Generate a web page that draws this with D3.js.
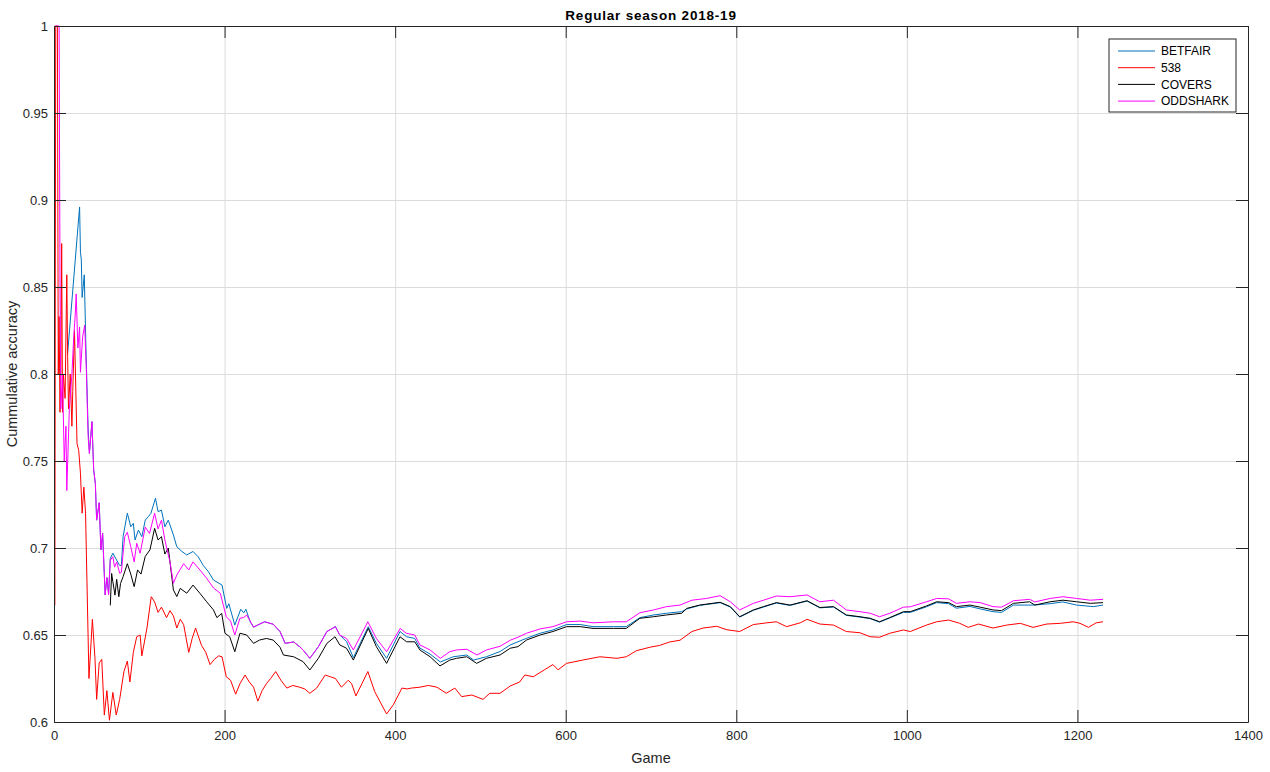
<!DOCTYPE html>
<html lang="en">
<head>
    <meta charset="UTF-8">
    <title>Regular season 2018-19</title>
    <script src="https://d3js.org/d3.v7.min.js"></script>
    <style>
        body { margin: 0; background: #fff; }
        svg { font-family: "Liberation Sans", Arial, Helvetica, sans-serif; }
        .tick text { fill: #262626; font-size: 13px; }
        .axis path, .axis line { stroke: #262626; }
        .grid line { stroke: #dcdcdc; }
        .grid path { display: none; }
        .series { fill: none; stroke-width: 1px; stroke-linejoin: round; }
    </style>
</head>
<body>
<div id="chart"></div>
<script>
    // Values: [game, cumulative accuracy]
    const seriesNames = ["BETFAIR", "538", "COVERS", "ODDSHARK"];
    const seriesColors = ["#0072bd", "#ff0000", "#000000", "#ff00ff"];
    const xTicks = [0, 200, 400, 600, 800, 1000, 1200, 1400];
    const yTicks = [0.6, 0.65, 0.7, 0.75, 0.8, 0.85, 0.9, 0.95, 1];

    const betfair = [
        [16,0.812],[30,0.896],[31,0.870],[32,0.866],[33,0.844],[35.5,0.857],[37.5,0.814],[40,0.769],
        [41.5,0.7544],[44.5,0.7726],[46.5,0.745],[48.5,0.737],[50,0.716],[53,0.726],[55,0.699],[57,0.7085],
        [60,0.673],[62,0.683],[64,0.674],[66,0.694],[69,0.697],[73.5,0.693],[77,0.690],[79,0.690],
        [81,0.7065],[86,0.72],[90,0.7122],[93,0.7142],[95,0.7046],[99,0.7103],[103,0.7065],[107,0.716],
        [110.6,0.718],[113.6,0.7199],[119,0.7286],[122,0.7209],[126,0.7218],[130,0.7122],[134,0.716],
        [140,0.7075],[144,0.7007],[150,0.698],[155.6,0.696],[163,0.698],[169,0.695],[175,0.690],
        [181,0.6864],[187,0.6816],[197,0.6787],[202.5,0.6653],[205,0.668],[212,0.6557],[219,0.6648],
        [222.5,0.6627],[225,0.6648],[230,0.6576],[234,0.6545],[240,0.656],[247,0.6576],[257,0.6562],
        [265,0.652],[271,0.6452],[281,0.646],[288,0.6433],[292,0.6414],[300,0.6366],[310,0.6433],
        [320,0.652],[330,0.6548],[335,0.65],[343,0.6462],[351,0.637],[368.5,0.6548],[378,0.6452],
        [390,0.6366],[405.7,0.652],[413.5,0.649],[423,0.648],[429,0.6425],[441,0.639],[453,0.6345],
        [468,0.6375],[484,0.6385],[492,0.6356],[507,0.6375],[523,0.6405],[535,0.6443],[554,0.6481],
        [570,0.651],[585,0.6529],[601,0.656],[617,0.656],[632,0.6548],[656,0.6548],[671,0.6548],
        [687,0.66],[703,0.6615],[718,0.6625],[736,0.6634],[742,0.665],[757,0.667],[781,0.6686],
        [793,0.6661],[804,0.6603],[820,0.6642],[832,0.6661],[847,0.6684],[863,0.667],[883,0.6695],
        [898,0.6656],[914,0.6661],[929,0.6613],[945,0.6603],[957,0.6594],[968,0.6574],[980,0.6598],
        [996,0.663],[1004,0.663],[1023,0.6662],[1035,0.6686],[1049,0.668],[1058,0.6654],[1074,0.6664],
        [1086,0.665],[1101,0.6634],[1111,0.663],[1125,0.6672],[1148,0.6672],[1168,0.668],[1183,0.669],
        [1199,0.6672],[1219,0.6663],[1230,0.6672]
    ];

    const fivethirtyeight = [
        [1,0.667],[2,1],[4,1],[5,0.80],[6,0.833],[7,0.778],[8,0.80],[9,0.875],[10,0.778],[11,0.80],
        [13,0.786],[15,0.857],[16,0.81],[17,0.78],[19,0.80],[21,0.77],[22,0.79],[24,0.825],[27,0.76],
        [29,0.756],[31,0.743],[33,0.72],[35,0.735],[37,0.72],[41,0.625],[45,0.659],[48,0.637],[50,0.613],
        [53,0.634],[56,0.636],[59,0.604],[62,0.618],[65,0.601],[69,0.617],[73,0.604],[77,0.613],[82,0.629],
        [86,0.635],[89,0.623],[93,0.640],[97,0.649],[101,0.65],[103,0.638],[109,0.654],[114,0.672],
        [118,0.669],[122,0.663],[126,0.666],[132,0.66],[136,0.664],[140,0.661],[144,0.654],[148,0.659],
        [152,0.656],[158,0.64],[162,0.648],[166,0.654],[173,0.644],[178,0.640],[183,0.633],[188,0.636],
        [193,0.638],[197,0.6375],[202,0.626],[207,0.624],[213,0.616],[218,0.622],[224,0.627],[229,0.623],
        [234,0.620],[239,0.612],[244,0.618],[249,0.622],[254,0.625],[260,0.629],[266,0.624],[273,0.6195],
        [280,0.621],[288,0.620],[294,0.619],[300,0.6165],[308,0.6195],[318,0.627],[324,0.626],[330,0.625],
        [337,0.620],[345,0.624],[349,0.622],[354,0.615],[361,0.622],[368,0.629],[376,0.6175],[383,0.611],
        [390,0.6046],[398,0.610],[408,0.6195],[414,0.619],[419,0.6195],[429,0.620],[439,0.621],[449,0.620],
        [460,0.6165],[470,0.6195],[478,0.6146],[490,0.6155],[503,0.613],[511,0.6165],[523,0.6165],
        [535,0.6207],[546,0.623],[552,0.627],[562,0.626],[575,0.630],[585,0.633],[591,0.630],[601,0.6337],
        [620,0.6356],[640,0.6375],[660,0.6366],[671,0.6375],[683,0.641],[699,0.643],[710,0.644],
        [722,0.646],[734,0.647],[748,0.652],[761,0.654],[777,0.655],[789,0.653],[804,0.652],[820,0.656],
        [836,0.657],[847,0.6576],[859,0.6548],[875,0.657],[883,0.659],[898,0.6563],[914,0.6557],
        [929,0.652],[945,0.6513],[957,0.649],[968,0.6487],[980,0.651],[996,0.6529],[1004,0.652],
        [1023,0.6557],[1035,0.6576],[1049,0.6586],[1062,0.6567],[1072,0.6544],[1084,0.6563],[1101,0.654],
        [1117,0.6557],[1133,0.6567],[1148,0.6544],[1164,0.6563],[1180,0.6567],[1195,0.6576],[1203,0.6567],
        [1213,0.6544],[1222,0.657],[1230,0.6576]
    ];

    const covers = [
        [66,0.667],[67.6,0.6854],[69,0.6806],[71.5,0.6729],[73.5,0.682],[76,0.672],[78,0.6796],[81,0.6835],
        [86,0.691],[90,0.685],[94,0.6778],[98,0.6874],[102,0.685],[107,0.6952],[112.5,0.6989],[118,0.7113],
        [122,0.7046],[126,0.7065],[130,0.6965],[134,0.70],[140,0.6759],[144,0.6721],[148,0.6768],
        [155.6,0.674],[163,0.6787],[171,0.674],[179,0.6691],[187,0.6644],[191,0.660],[196.6,0.6624],
        [200.5,0.651],[206,0.649],[212,0.6404],[218,0.651],[226,0.650],[234,0.6452],[241,0.6471],
        [249,0.648],[257,0.6471],[265,0.643],[269,0.6385],[281,0.6375],[292,0.6347],[300,0.6299],
        [310,0.6366],[320,0.6452],[329.5,0.649],[335,0.6443],[343,0.6424],[351,0.6356],[368.5,0.6538],
        [378,0.6433],[390,0.6337],[405.7,0.649],[413.5,0.6461],[423,0.6461],[429,0.6414],[441,0.6375],
        [452.6,0.6322],[464,0.6356],[472,0.6366],[484,0.6375],[495.6,0.6337],[507,0.6366],[523,0.6385],
        [535,0.6424],[544,0.6433],[554,0.6471],[570,0.650],[585,0.652],[601,0.6548],[617,0.6548],
        [632,0.6538],[656,0.6538],[671,0.6538],[687,0.6596],[703,0.6605],[718,0.6615],[736,0.6625],
        [742,0.6653],[757,0.6672],[781,0.6688],[793,0.6663],[804,0.6605],[820,0.6644],[832,0.6663],
        [847,0.6686],[863,0.6672],[883,0.6697],[898,0.6658],[914,0.6663],[929,0.6615],[945,0.6605],
        [957,0.6596],[968,0.6576],[980,0.66],[996,0.6634],[1004,0.6634],[1023,0.6667],[1035,0.6691],
        [1049,0.6686],[1058,0.6663],[1074,0.6672],[1086,0.666],[1101,0.6644],[1111,0.664],[1125,0.6682],
        [1144,0.6691],[1150,0.6672],[1168,0.6691],[1183,0.670],[1199,0.6691],[1215,0.6682],[1230,0.6686]
    ];

    const oddshark = [
        [1,1],[6,1],[7,0.857],[8,0.78],[10,0.80],[12,0.75],[14,0.77],[15,0.733],[18,0.78],[21,0.80],
        [23,0.82],[25,0.835],[26,0.846],[28,0.815],[30,0.827],[31,0.801],[33.6,0.8214],[36,0.828],
        [38,0.801],[40,0.764],[41.5,0.7544],[44.5,0.7726],[46.5,0.745],[48.5,0.737],[50,0.716],[53,0.726],
        [55,0.699],[57,0.7085],[60,0.673],[62,0.683],[64,0.673],[66,0.693],[69,0.695],[71,0.689],
        [73.5,0.692],[77,0.6855],[79,0.686],[81,0.697],[83,0.7065],[86,0.709],[90,0.7007],[94,0.692],
        [97,0.7027],[101,0.697],[107,0.712],[112,0.7084],[118,0.72],[122,0.711],[126,0.716],[130,0.7046],
        [136,0.692],[140,0.6797],[144,0.6845],[152,0.691],[158,0.6874],[163,0.692],[171,0.6874],
        [179,0.6826],[187,0.677],[195,0.674],[202,0.6605],[207,0.658],[212,0.65],[218,0.6596],[222,0.66],
        [226,0.6615],[234,0.6545],[240,0.656],[247,0.6576],[257,0.6562],[265,0.652],[271,0.6452],
        [281,0.646],[288,0.6433],[292,0.6414],[300,0.6366],[310,0.6433],[320,0.652],[330,0.6548],
        [335,0.65],[343,0.648],[351,0.6414],[368,0.6576],[378,0.648],[390,0.6404],[406,0.6538],
        [413,0.651],[423,0.65],[429,0.6443],[441,0.6414],[453,0.6366],[464,0.6404],[472,0.6414],
        [484,0.6418],[496,0.6385],[507,0.6414],[523,0.6435],[535,0.647],[544,0.6487],[554,0.651],
        [570,0.6535],[585,0.6548],[601,0.6576],[617,0.658],[632,0.657],[656,0.6576],[671,0.6576],
        [687,0.6628],[703,0.6644],[718,0.6663],[734,0.6672],[748,0.670],[765,0.671],[781,0.6726],
        [793,0.6691],[804,0.6644],[820,0.6682],[832,0.670],[847,0.6724],[863,0.672],[883,0.673],
        [898,0.6691],[914,0.670],[929,0.6644],[945,0.6634],[957,0.6625],[968,0.6605],[980,0.6625],
        [996,0.666],[1004,0.6662],[1023,0.6691],[1035,0.671],[1049,0.6708],[1058,0.6682],[1074,0.6691],
        [1086,0.6686],[1101,0.6663],[1111,0.666],[1125,0.6697],[1144,0.6705],[1150,0.669],[1168,0.671],
        [1183,0.672],[1199,0.671],[1215,0.670],[1230,0.6705]
    ];

    const allSeries = [betfair, fivethirtyeight, covers, oddshark];

    // Layout
    const W = 1270, H = 772;
    const margin = {top: 26, right: 22, bottom: 50, left: 54};
    const width = W - margin.left - margin.right;
    const height = H - margin.top - margin.bottom;

    const svg = d3.select("#chart").append("svg")
        .attr("width", W)
        .attr("height", H);

    const g = svg.append("g")
        .attr("transform", `translate(${margin.left},${margin.top})`);

    const x = d3.scaleLinear().domain([0, 1400]).range([0, width]);
    const y = d3.scaleLinear().domain([0.6, 1]).range([height, 0]);
    const fmtX = d3.format("d");
    const fmtY = d => String(+d.toFixed(2));

    // Grid lines
    g.append("g").attr("class", "grid")
        .attr("transform", `translate(0,${height})`)
        .call(d3.axisBottom(x).tickValues(xTicks).tickSize(-height).tickFormat(""));
    g.append("g").attr("class", "grid")
        .call(d3.axisLeft(y).tickValues(yTicks).tickSize(-width).tickFormat(""));

    // Series lines
    g.append("clipPath").attr("id", "plotClip")
        .append("rect").attr("x", 0).attr("y", -1).attr("width", width).attr("height", height + 2);

    const line = d3.line().x(d => x(d[0])).y(d => y(d[1]));

    g.append("g").attr("clip-path", "url(#plotClip)")
        .selectAll("path")
        .data(allSeries)
        .join("path")
        .attr("class", "series")
        .attr("stroke", (d, i) => seriesColors[i])
        .attr("d", line);

    // Axes, ticks pointing inward on all four sides
    const tick = 12;
    g.append("g").attr("class", "axis")
        .attr("transform", `translate(0,${height})`)
        .call(d3.axisBottom(x).tickValues(xTicks).tickFormat(fmtX).tickSizeInner(-tick).tickSizeOuter(0).tickPadding(9));
    g.append("g").attr("class", "axis")
        .call(d3.axisLeft(y).tickValues(yTicks).tickFormat(fmtY).tickSizeInner(-tick).tickSizeOuter(0).tickPadding(6));
    g.append("g").attr("class", "axis")
        .call(d3.axisTop(x).tickValues(xTicks).tickSizeInner(-tick).tickSizeOuter(0).tickFormat(""));
    g.append("g").attr("class", "axis")
        .attr("transform", `translate(${width},0)`)
        .call(d3.axisRight(y).tickValues(yTicks).tickSizeInner(-tick).tickSizeOuter(0).tickFormat(""));

    // Titles
    svg.append("text")
        .attr("x", margin.left + width / 2).attr("y", 20)
        .attr("text-anchor", "middle")
        .style("font-size", "13.5px").style("font-weight", "bold")
        .style("letter-spacing", "0.8px").style("fill", "#000")
        .text("Regular season 2018-19");

    svg.append("text")
        .attr("x", margin.left + width / 2).attr("y", 763)
        .attr("text-anchor", "middle")
        .style("font-size", "14.5px").style("fill", "#262626")
        .text("Game");

    svg.append("text")
        .attr("transform", `translate(17,${margin.top + height / 2}) rotate(-90)`)
        .attr("text-anchor", "middle")
        .style("font-size", "14.5px").style("fill", "#262626")
        .text("Cummulative accuracy");

    // Legend
    const legend = g.append("g").attr("transform", "translate(1055,13)");
    legend.append("rect")
        .attr("width", 127).attr("height", 73)
        .attr("fill", "#fff").attr("stroke", "#262626").attr("stroke-width", 1);

    const rows = legend.selectAll("g.row")
        .data(seriesNames)
        .join("g")
        .attr("class", "row")
        .attr("transform", (d, i) => `translate(0,${12 + i * 16.7})`);

    rows.append("line")
        .attr("x1", 9).attr("x2", 46)
        .attr("stroke", (d, i) => seriesColors[i])
        .attr("stroke-width", 1);

    rows.append("text")
        .attr("x", 52).attr("dy", "0.35em")
        .style("font-size", "12px").style("fill", "#000")
        .text(d => d);
</script>
</body>
</html>
